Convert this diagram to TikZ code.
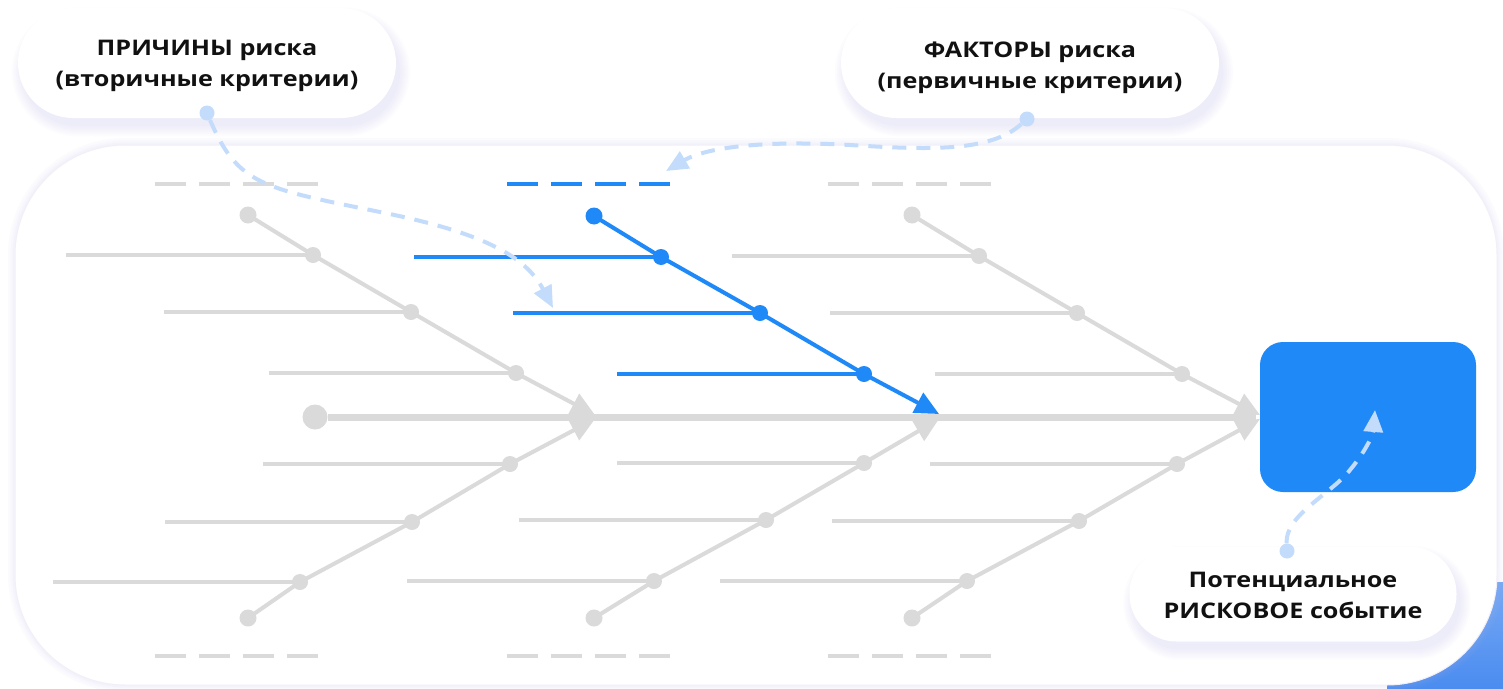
\documentclass[tikz,border=0pt]{standalone}
\usepackage{fontspec}
\setmainfont{Open Sans}[FakeStretch=1.17]
\usetikzlibrary{arrows.meta,calc}
\pgfdeclarelayer{panel}
\pgfdeclarelayer{shadow}
\pgfsetlayers{panel,shadow,main}
\definecolor{fishgray}{RGB}{218,218,218}
\definecolor{fishblue}{RGB}{30,137,247}
\definecolor{hintblue}{RGB}{196,220,251}
\definecolor{lav}{RGB}{190,184,236}
\definecolor{panelline}{RGB}{240,240,247}
\definecolor{cornerblue}{RGB}{74,140,240}
\definecolor{txt}{RGB}{17,17,17}
\newcommand{\lblfont}{\bfseries\fontsize{21.5pt}{31pt}\selectfont}
\begin{document}
\begin{tikzpicture}[x=1pt,y=-1pt,
  dot/.style={circle, inner sep=0pt, minimum size=16pt},
  bone/.style={line width=4pt, line join=round},
  ribline/.style={line width=4pt},
  hdash/.style={line width=4pt, dash pattern=on 31pt off 13pt},
  spine/.style={line width=7pt, draw=fishgray},
  hint/.style={draw=hintblue, line width=4pt, dash pattern=on 14pt off 10pt, -{Triangle[length=22pt,width=19pt]}},
  pill/.style={fill=white, inner sep=0pt},
  lbl/.style={align=center, font=\lblfont, text=txt, inner sep=0pt},
]
\useasboundingbox (0,0) rectangle (1503,688);
\begin{pgfonlayer}{panel}
  \fill[white] (0,0) rectangle (1503,688);
  \shade[top color=cornerblue!75!white, bottom color=cornerblue] (1387,582) rectangle (1503,688);
  \foreach \g in {14,9,5}
    \draw[lav, opacity=0.05, line width=\g pt, rounded corners=110pt] (15,145) rectangle (1497,685);
  \filldraw[fill=white, draw=panelline, line width=1pt, rounded corners=110pt] (15,145) rectangle (1497,685);
\end{pgfonlayer}

% label pills
\node[pill, minimum width=378pt, minimum height=110pt, rounded corners=55pt] (causes) at (207,63) {};
\node[pill, minimum width=378pt, minimum height=110pt, rounded corners=55pt] (factors) at (1030,63) {};
\node[pill, minimum width=327pt, minimum height=95pt, rounded corners=47pt] (eventlbl) at (1293,594) {};
\node[lbl] (causes-txt) at (207,66) {ПРИЧИНЫ риска\\(вторичные критерии)};
\node[lbl] (factors-txt) at (1030,68) {ФАКТОРЫ риска\\(первичные критерии)};
\node[lbl] (eventlbl-txt) at (1293,595) {Потенциальное\\РИСКОВОЕ событие};
\begin{pgfonlayer}{shadow}
  \foreach \nm/\r in {causes/55,factors/55,eventlbl/47} {
    \foreach \g in {0,2,...,10} {
      \fill[lav, opacity=0.045, rounded corners=\r pt+\g pt]
        ($(\nm.south west)+(4-\g,8+\g)$) rectangle ($(\nm.north east)+(4+\g,10-\g)$);
    }
  }
\end{pgfonlayer}

% event box
\node[fill=fishblue, rounded corners=23pt, minimum width=216pt, minimum height=150pt, inner sep=0pt] (event) at (1368,417) {};

% header dashes
\foreach \n/\xa/\xb/\yy/\col in {h1/155/318/184/fishgray, h2/507/670/184/fishblue, h3/828/991/184/fishgray,
                                 h4/155/318/656/fishgray, h5/507/670/656/fishgray, h6/828/991/656/fishgray} {
  \coordinate (\n-l) at (\xa,\yy);
  \coordinate (\n-r) at (\xb,\yy);
  \draw[hdash, draw=\col] (\n-l) -- (\n-r);
}

% spine
\node[dot, fill=fishgray, minimum size=25pt] (tail) at (315,417) {};
\coordinate (head) at (1256,417);
\draw[spine] (tail) -- (head);

% bones
\foreach \n/\dx/\dy/\ax/\ay/\bx/\by/\cx/\cy/\tx/\ty/\col in {
   u1/248/215/313/255/411/312/516/373/595/415/fishgray,
   u3/912/215/979/256/1077/313/1182/374/1260/415/fishgray,
   l1/248/618/300/582/412/522/510/464/595/419/fishgray,
   l2/594/618/654/581/766/520/864/463/939/419/fishgray,
   l3/912/618/967/581/1079/521/1177/464/1260/419/fishgray,
   u2/594/216/661/257/760/313/864/374/939/414/fishblue} {
  \coordinate (\n-t) at (\tx,\ty);
  \coordinate (\n-ae) at (\ax-247,\ay);
  \coordinate (\n-be) at (\bx-247,\by);
  \coordinate (\n-ce) at (\cx-247,\cy);
  \coordinate (\n-ap) at (\ax,\ay);
  \coordinate (\n-bp) at (\bx,\by);
  \coordinate (\n-cp) at (\cx,\cy);
  \coordinate (\n-dp) at (\dx,\dy);
  \draw[ribline, draw=\col] (\n-ap) -- (\n-ae);
  \draw[ribline, draw=\col] (\n-bp) -- (\n-be);
  \draw[ribline, draw=\col] (\n-cp) -- (\n-ce);
  \draw[bone, draw=\col, -{Triangle[length=24pt,width=22pt]}] (\n-dp) -- (\n-ap) -- (\n-bp) -- (\n-cp) -- (\n-t);
  \node[dot, fill=\col, minimum size=17pt] (\n-d) at (\n-dp) {};
  \node[dot, fill=\col] (\n-a) at (\n-ap) {};
  \node[dot, fill=\col] (\n-b) at (\n-bp) {};
  \node[dot, fill=\col] (\n-c) at (\n-cp) {};
}

% hint dots and curved dashed arrows
\node[dot, fill=hintblue, minimum size=15pt] (hc) at (207,113) {};
\node[dot, fill=hintblue, minimum size=15pt] (hf) at (1027,119) {};
\node[dot, fill=hintblue, minimum size=15pt] (he) at (1287,551) {};
\coordinate (hcEnd) at (553,308);
\coordinate (hfEnd) at (666,171);
\coordinate (heEnd) at (1375,410);
\draw[hint] (hc) .. controls (238,185) and (262,188) .. (380,212) .. controls (480,232) and (525,255) .. (hcEnd);
\draw[hint] (hf) .. controls (990,152) and (930,150) .. (850,145) .. controls (760,140) and (705,148) .. (hfEnd);
\draw[hint] (he) .. controls (1285,515) and (1330,495) .. (1350,470) .. controls (1365,452) and (1373,435) .. (heEnd);
\end{tikzpicture}
\end{document}
